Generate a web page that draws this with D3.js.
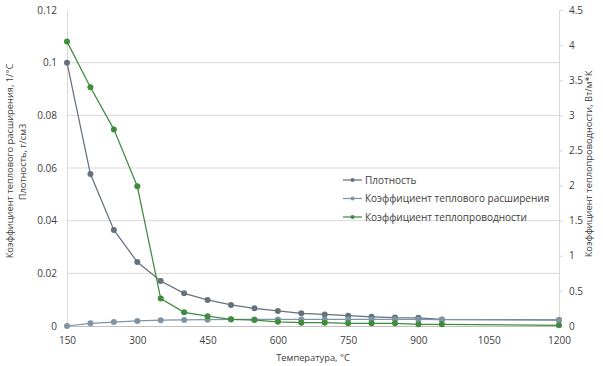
<!DOCTYPE html>
<html>
<head>
<meta charset="utf-8">
<script src="https://cdn.jsdelivr.net/npm/d3@7"></script>
<style>
  body { margin: 0; background: #fff; }
  svg text { font-family: "Open Sans", "Noto Sans", sans-serif; fill: #404040; }
</style>
</head>
<body>
<svg id="chart" width="603" height="366"></svg>
<script>
const temps = [150, 200, 250, 300, 350, 400, 450, 500, 550, 600, 650, 700, 750, 800, 850, 900, 950, 1200]
// left axis
const density = [0.1, 0.0577, 0.0365, 0.0243, 0.0171, 0.0124, 0.0099, 0.008, 0.0067, 0.0057, 0.0048, 0.0044, 0.0039, 0.0035, 0.0032, 0.0031, 0.0025, 0.0023]
const expansion = [0, 0.001, 0.0015, 0.0019, 0.0022, 0.0023, 0.0024, 0.0025, 0.0025, 0.0025, 0.0025, 0.0025, 0.0025, 0.0025, 0.0025, 0.0025, 0.0024, 0.0022]
// right axis
const conductivity = [4.05, 3.4, 2.8, 1.99, 0.39, 0.195, 0.14, 0.095, 0.085, 0.06, 0.047, 0.047, 0.038, 0.038, 0.038, 0.024, 0.024, 0.01]

const xTicks = [150, 300, 450, 600, 750, 900, 1050, 1200]
const leftTicks = [0, 0.02, 0.04, 0.06, 0.08, 0.1, 0.12]
const rightTicks = [0, 0.5, 1, 1.5, 2, 2.5, 3, 3.5, 4, 4.5]

const seriesNames = ['Плотность', 'Коэффициент теплового расширения', 'Коэффициент теплопроводности']
const colors = ['#66717e', '#7d95a6', '#3f8c3f']

const conf = {
  left: 67,
  right: 559,
  top: 10,
  bottom: 326,
  tickFont: 10,
  titleFont: 9.3
}

const svg = d3.select('#chart')

const x = d3.scaleLinear().domain([150, 1200]).range([conf.left, conf.right])
const yL = d3.scaleLinear().domain([0, 0.12]).range([conf.bottom, conf.top])
const yR = d3.scaleLinear().domain([0, 4.5]).range([conf.bottom, conf.top])

// gridlines
svg.append('g')
  .selectAll('line')
  .data(leftTicks.filter(d => d > 0 && d < 0.12))
  .join('line')
  .attr('x1', conf.left)
  .attr('x2', conf.right)
  .attr('y1', d => yL(d))
  .attr('y2', d => yL(d))
  .attr('stroke', '#d9d9d9')
  .attr('stroke-width', 1)

// left axis
const leftAxis = svg.append('g')
  .attr('transform', `translate(${conf.left},0)`)
  .call(d3.axisLeft(yL).tickValues(leftTicks).tickFormat(d3.format('~g')).tickSize(0).tickPadding(10))
leftAxis.select('.domain').attr('stroke', '#d9d9d9')
leftAxis.selectAll('text').attr('font-size', conf.tickFont).attr('fill', '#404040')

// right axis
const rightAxis = svg.append('g')
  .attr('transform', `translate(${conf.right},0)`)
  .call(d3.axisRight(yR).tickValues(rightTicks).tickFormat(d3.format('~g')).tickSize(4).tickPadding(6))
rightAxis.select('.domain').attr('stroke', '#d9d9d9')
rightAxis.selectAll('.tick line').attr('stroke', '#d9d9d9')
rightAxis.selectAll('text').attr('font-size', conf.tickFont).attr('fill', '#404040')

// bottom axis
const bottomAxis = svg.append('g')
  .attr('transform', `translate(0,${conf.bottom})`)
  .call(d3.axisBottom(x).tickValues(xTicks).tickFormat(d3.format('d')).tickSize(0).tickPadding(11))
bottomAxis.select('.domain').attr('stroke', '#bfbfbf')
bottomAxis.selectAll('text').attr('font-size', conf.tickFont).attr('fill', '#404040')

// axis titles
svg.append('text')
  .attr('transform', 'translate(13,161) rotate(-90)')
  .attr('text-anchor', 'middle')
  .attr('font-size', conf.titleFont)
  .text('Коэффициент теплового расширения, 1/°С')
svg.append('text')
  .attr('transform', 'translate(26,162) rotate(-90)')
  .attr('text-anchor', 'middle')
  .attr('font-size', conf.titleFont)
  .text('Плотность, г/см3')
svg.append('text')
  .attr('transform', 'translate(592,164) rotate(-90)')
  .attr('text-anchor', 'middle')
  .attr('font-size', conf.titleFont)
  .text('Коэффициент теплопроводности, Вт/м*К')
svg.append('text')
  .attr('x', 313)
  .attr('y', 361)
  .attr('text-anchor', 'middle')
  .attr('font-size', conf.titleFont)
  .text('Температура, °С')

// series
const series = [
  { name: seriesNames[0], values: density, y: yL, color: colors[0] },
  { name: seriesNames[1], values: expansion, y: yL, color: colors[1] },
  { name: seriesNames[2], values: conductivity, y: yR, color: colors[2] }
]

series.forEach(s => {
  const pts = temps.map((t, i) => [t, s.values[i]])
  const line = d3.line().x(d => x(d[0])).y(d => s.y(d[1]))
  const g = svg.append('g')
  g.append('path')
    .datum(pts)
    .attr('d', line)
    .attr('fill', 'none')
    .attr('stroke', s.color)
    .attr('stroke-width', 1.25)
  g.selectAll('circle')
    .data(pts)
    .join('circle')
    .attr('cx', d => x(d[0]))
    .attr('cy', d => s.y(d[1]))
    .attr('r', 3)
    .attr('fill', s.color)
})

// legend
const legend = svg.append('g').attr('transform', 'translate(343,180)')
series.forEach((s, i) => {
  const row = legend.append('g').attr('transform', `translate(0,${i * 18.5})`)
  row.append('line')
    .attr('x1', 0).attr('x2', 19)
    .attr('stroke', s.color).attr('stroke-width', 1.25)
  row.append('circle').attr('cx', 9.5).attr('r', 2).attr('fill', s.color)
  row.append('text')
    .attr('x', 22)
    .attr('dy', '0.35em')
    .attr('font-size', 10)
    .text(s.name)
})
</script>
</body>
</html>
